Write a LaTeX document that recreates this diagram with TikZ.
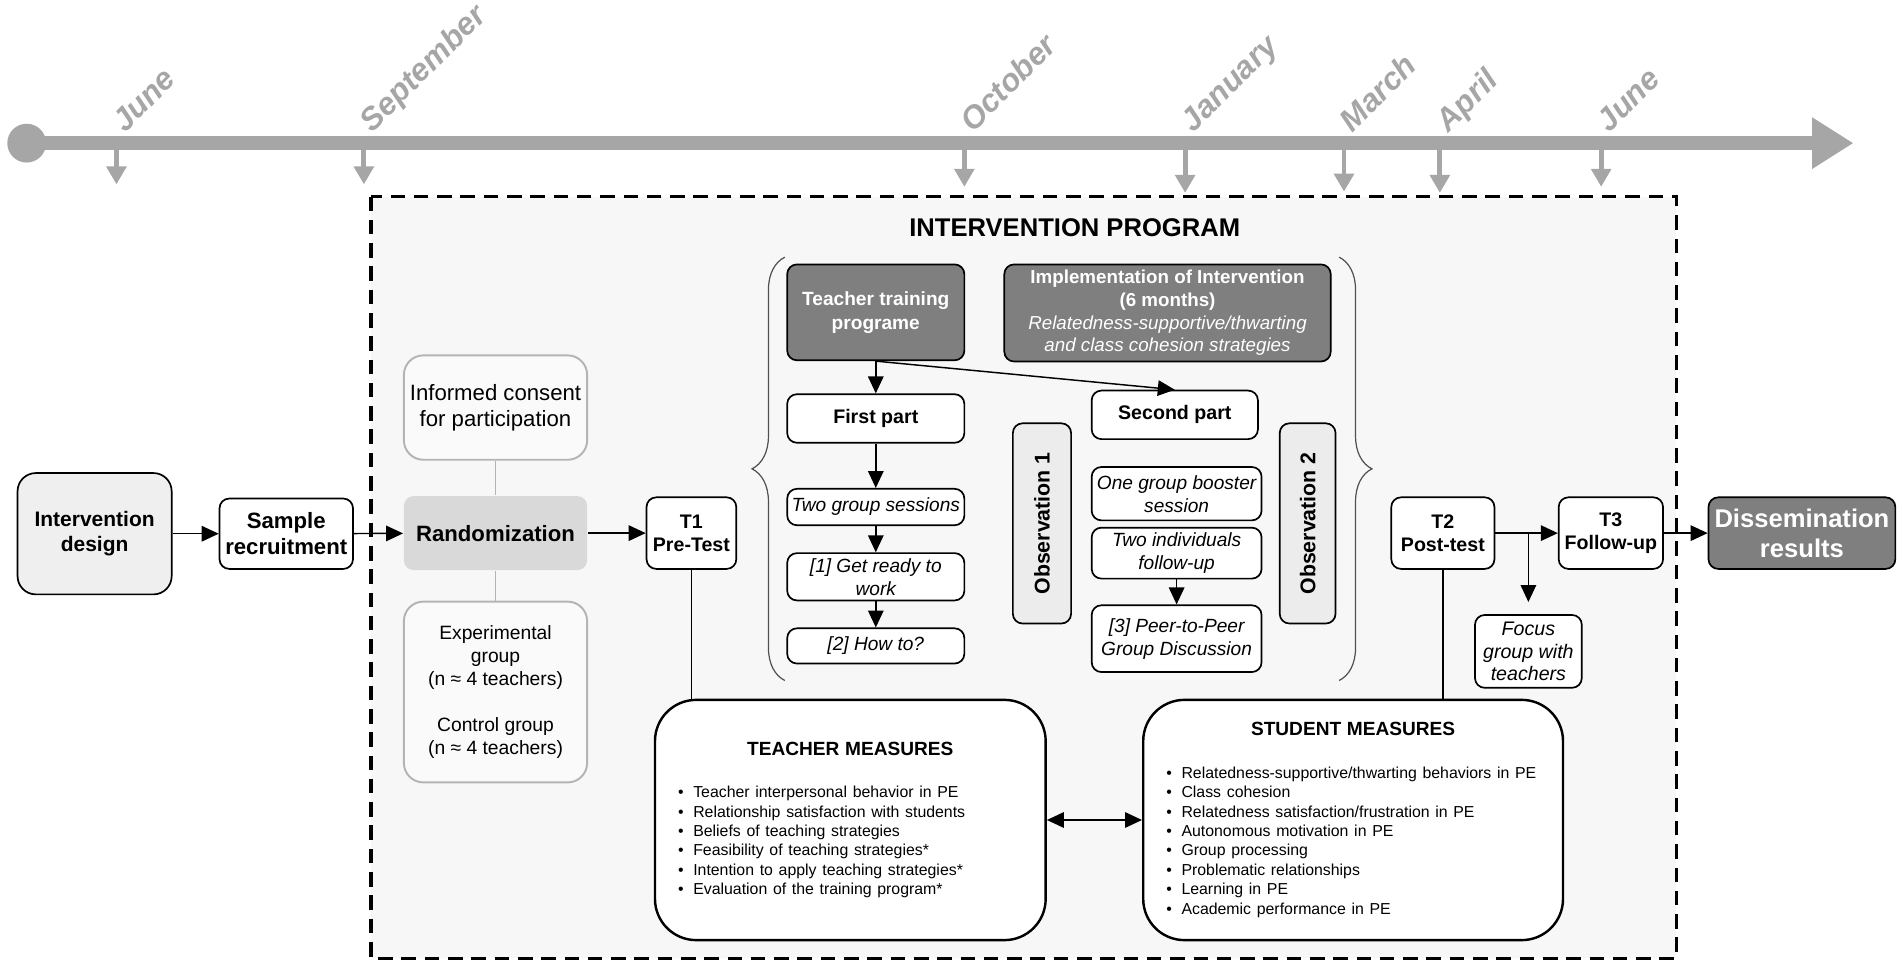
\documentclass[tikz,border=0pt]{standalone}
\usepackage{fontspec}
\setmainfont{Liberation Sans}
\usetikzlibrary{arrows.meta,decorations.pathreplacing}

\definecolor{tline}{HTML}{A6A6A6}
\definecolor{bgfill}{HTML}{F7F7F7}
\definecolor{softfill}{HTML}{FAFAFA}
\definecolor{softline}{HTML}{B4B4B4}
\definecolor{darkfill}{HTML}{7F7F7F}
\definecolor{randfill}{HTML}{D9D9D9}
\definecolor{designfill}{HTML}{EFEFEF}
\definecolor{obsfill}{HTML}{ECECEC}
\definecolor{bracecol}{HTML}{505050}

\newcommand\setfs[2]{\fontsize{#1pt}{#2pt}\selectfont}
\newcommand\mitem[1]{\textbullet\hspace{0.2cm}#1\par}

\tikzset{
  box/.style={draw, fill=white, line width=0.035cm, rounded corners=0.2cm, align=center, inner sep=0pt},
  boldbox/.style={box, font=\bfseries\setfs{11.5}{13.5}},
  italbox/.style={box, font=\itshape\setfs{11.2}{13.5}},
  darkbox/.style={box, fill=darkfill, text=white},
  obsbox/.style={box, fill=obsfill, rotate=90, font=\bfseries\setfs{12.5}{15}},
  softbox/.style={draw=softline, fill=softfill, line width=0.04cm, rounded corners=0.4cm, align=center, inner sep=0pt},
  measbox/.style={draw, fill=white, line width=0.05cm, rounded corners=0.85cm, inner xsep=0.475cm, inner ysep=0pt},
  conn/.style={line width=0.03cm, -{Triangle[length=0.35cm,width=0.32cm]}},
  link/.style={line width=0.03cm},
  softlink/.style={draw=softline, line width=0.04cm},
  tickarrow/.style={draw=tline, line width=0.1cm, -{Triangle[length=0.37cm,width=0.4cm]}},
  month/.style={text=tline, font=\bfseries\itshape\setfs{18.5}{20}, rotate=45, anchor=base west, inner sep=0pt},
  curly/.style={draw=bracecol, line width=0.025cm, decorate, decoration={brace, amplitude=0.675cm}}
}

\begin{document}
\begin{tikzpicture}[x=0.025cm, y=-0.025cm]
\useasboundingbox (0,0) rectangle (1568,795);
\draw[line width=0.07cm, dash pattern=on 0.3cm off 0.18cm, fill=bgfill] (306,162) rectangle (1382,790);

\node[circle, fill=tline, minimum size=0.8cm, inner sep=0pt] (start) at (22,118) {};
\coordinate (tlend) at (1528,118);
\draw[tline, line width=0.3cm, -{Triangle[length=0.85cm,width=1cm]}] (start.center) -- (tlend);
\foreach \x/\y/\m in {96/152/June, 300/152/September, 795/154/October, 977/159/January, 1108/158/March, 1187/159/April, 1320/154/June}{
  \draw[tickarrow] (\x,124) -- (\x,\y);
  \node[month] (lab\x) at (\x+7,110) {\m};
}

\node[box, fill=designfill, rounded corners=0.375cm, minimum width=3.175cm, minimum height=2.5cm, font=\bfseries\setfs{12.3}{15}] (design) at (78,440) {Intervention\\design};
\node[box, minimum width=2.75cm, minimum height=1.45cm, font=\bfseries\setfs{13}{15}] (sample) at (236,440) {Sample\\recruitment};
\node[softbox, minimum width=3.775cm, minimum height=2.15cm, font=\setfs{13}{15.6}] (consent) at (408.5,336) {Informed consent\\for participation};
\node[box, draw=none, fill=randfill, minimum width=3.775cm, minimum height=1.525cm, font=\bfseries\setfs{13}{15}] (random) at (408.5,439.5) {Randomization};
\node[softbox, minimum width=3.775cm, minimum height=3.725cm, font=\setfs{11.3}{13.5}] (groups) at (408.5,570.5) {Experimental\\group\\(n ≈ 4 teachers)\\[13.5pt]Control group\\(n ≈ 4 teachers)};
\node[boldbox, minimum width=1.85cm, minimum height=1.475cm] (pretest) at (570,439.5) {T1\\Pre-Test};

\node[font=\bfseries\setfs{15}{18}] (progtitle) at (886,188) {INTERVENTION PROGRAM};
\draw[curly] (647,561) -- (647,212);
\draw[curly] (1104,212) -- (1104,561);

\node[darkbox, minimum width=3.65cm, minimum height=1.975cm, font=\bfseries\setfs{11.2}{14.2}] (training) at (722,257.5) {Teacher training\\programe};
\node[darkbox, minimum width=6.725cm, minimum height=2cm, font=\setfs{11}{13.3}] (implem) at (962.5,258) {\bfseries Implementation of Intervention\\\bfseries (6 months)\\\itshape Relatedness-supportive/thwarting\\\itshape and class cohesion strategies};
\node[boldbox, minimum width=3.65cm, minimum height=1cm] (firstpart) at (722,345) {First part};
\node[italbox, minimum width=3.65cm, minimum height=0.75cm] (twosess) at (722,418) {Two group sessions};
\node[italbox, minimum width=3.65cm, minimum height=0.975cm] (ready) at (722,475.5) {[1] Get ready to\\work};
\node[italbox, minimum width=3.65cm, minimum height=0.725cm] (howto) at (722,532.5) {[2] How to?};
\node[obsbox, minimum width=4.125cm, minimum height=1.2cm] (obsone) at (859,431.5) {Observation 1};
\node[boldbox, minimum width=3.425cm, minimum height=1cm] (secondpart) at (968.5,342) {Second part};
\node[italbox, minimum width=3.5cm, minimum height=1.1cm] (booster) at (970,407) {One group booster\\session};
\node[italbox, minimum width=3.5cm, minimum height=1.05cm] (indiv) at (970,456) {Two individuals\\follow-up};
\node[italbox, minimum width=3.5cm, minimum height=1.375cm] (peer) at (970,526.5) {[3] Peer-to-Peer\\Group Discussion};
\node[obsbox, minimum width=4.125cm, minimum height=1.15cm] (obstwo) at (1078,431.5) {Observation 2};

\node[boldbox, minimum width=2.125cm, minimum height=1.475cm] (posttest) at (1189.5,439.5) {T2\\Post-test};
\node[boldbox, minimum width=2.15cm, minimum height=1.475cm] (followup) at (1328,439.5) {T3\\Follow-up};
\node[darkbox, minimum width=3.85cm, minimum height=1.475cm, font=\bfseries\setfs{15}{17.7}] (dissem) at (1485.5,439.5) {Dissemination\\results};
\node[italbox, minimum width=2.2cm, minimum height=1.5cm, font=\itshape\setfs{11.5}{13}] (focus) at (1260,537) {Focus\\group with\\teachers};

\node[measbox, text width=7.1cm, minimum height=4.95cm] (tmeas) at (701,676) {{\centering\bfseries\setfs{11.2}{13}TEACHER MEASURES\par}\vspace{13.5pt}\setfs{9.3}{11.4}\raggedright
\mitem{Teacher interpersonal behavior in PE}
\mitem{Relationship satisfaction with students}
\mitem{Beliefs of teaching strategies}
\mitem{Feasibility of teaching strategies*}
\mitem{Intention to apply teaching strategies*}
\mitem{Evaluation of the training program*}};
\node[measbox, text width=7.7cm, minimum height=4.95cm] (smeas) at (1115.5,676) {{\centering\bfseries\setfs{11.2}{13}STUDENT MEASURES\par}\vspace{13.5pt}\setfs{9.3}{11.4}\raggedright
\mitem{Relatedness-supportive/thwarting behaviors in PE}
\mitem{Class cohesion}
\mitem{Relatedness satisfaction/frustration in PE}
\mitem{Autonomous motivation in PE}
\mitem{Group processing}
\mitem{Problematic relationships}
\mitem{Learning in PE}
\mitem{Academic performance in PE}};

\draw[conn] (design) -- (sample);
\draw[conn] (sample) -- (random);
\draw[softlink] (consent) -- (random);
\draw[softlink] (random) -- (groups);
\draw[conn] (random) -- (pretest);
\draw[conn] (training.south) -- (firstpart.north);
\draw[conn] (training.south) -- (secondpart.north);
\draw[conn] (firstpart) -- (twosess);
\draw[conn] (twosess) -- (ready);
\draw[conn] (ready) -- (howto);
\draw[conn] (indiv) -- (peer);
\draw[link] (pretest.south) -- (pretest.south |- tmeas.north);
\draw[link] (posttest.south) -- (posttest.south |- smeas.north);
\draw[conn] (posttest) -- (followup);
\draw[conn, shorten >=0.25cm] (posttest.east -| focus.north) -- (focus.north);
\draw[conn] (followup) -- (dissem);
\draw[conn, {Triangle[length=0.35cm,width=0.32cm]}-{Triangle[length=0.35cm,width=0.32cm]}] (tmeas) -- (smeas);
\end{tikzpicture}
\end{document}
